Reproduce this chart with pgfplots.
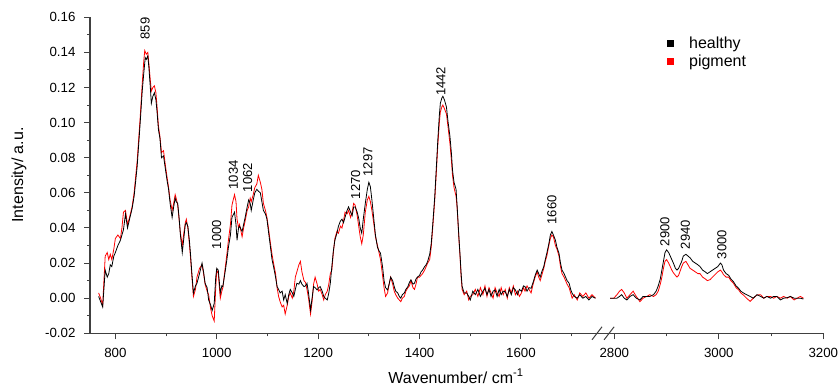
\documentclass[border=0pt]{standalone}
\usepackage{fontspec}
\setmainfont{Liberation Sans}
\usepackage{pgfplots}
\pgfplotsset{compat=1.18}
\definecolor{axgray}{HTML}{404040}
\begin{document}
\begin{tikzpicture}
\path[use as bounding box] (0pt,0pt) rectangle (838pt,389pt);
\pgfplotsset{
  myaxis/.style={
    scale only axis, height=316pt, ymin=-0.02, ymax=0.16, clip=false,
    tick align=outside, major tick length=6pt, minor tick length=3pt,
    every tick/.style={axgray, line width=1pt},
    axis line style={axgray, line width=1.2pt},
    tick label style={font=\fontsize{13.3}{15}\selectfont},
    /pgf/number format/assume math mode=true,
    /pgf/number format/1000 sep={},
    xticklabel style={yshift=-5pt},
  }
}
\begin{axis}[myaxis, name=L, at={(90pt,55.7pt)}, width=507pt,
  xmin=750, xmax=1750,
  axis lines*=left,
  xtick={800,1000,1200,1400,1600},
  minor xtick={900,1100,1300,1500,1700},
  ytick={-0.02,0,0.02,0.04,0.06,0.08,0.10,0.12,0.14,0.16},
  minor ytick={-0.01,0.01,0.03,0.05,0.07,0.09,0.11,0.13,0.15},
  yticklabel style={/pgf/number format/fixed, /pgf/number format/fixed zerofill, /pgf/number format/precision=2, xshift=-5pt},
]
\addplot[red, line width=0.8pt] table {
767 0.003
771 0.000
775 -0.004
780 0.024
784 0.026
787 0.022
790 0.025
793 0.022
797 0.028
800 0.034
805 0.036
810 0.034
813 0.040
816 0.049
820 0.050
824 0.042
828 0.046
833 0.052
837 0.060
843 0.078
849 0.103
853 0.122
856 0.135
858 0.141
861 0.139
864 0.140
866 0.134
869 0.124
871 0.118
874 0.120
877 0.121
880 0.117
882 0.110
885 0.098
888 0.092
891 0.083
895 0.084
899 0.075
902 0.069
905 0.063
908 0.056
912 0.050
915 0.054
918 0.059
920 0.057
923 0.053
926 0.044
928 0.038
932 0.030
935 0.037
938 0.043
940 0.045
943 0.040
946 0.031
948 0.024
951 0.012
954 0.001
958 0.005
961 0.012
966 0.017
971 0.019
974 0.014
977 0.008
981 0.004
984 0.002
988 -0.006
991 -0.010
995 -0.013
998 0.006
1000 0.016
1003 0.014
1007 0.000
1010 0.004
1012 0.006
1017 0.018
1020 0.025
1023 0.033
1027 0.042
1030 0.053
1035 0.059
1038 0.055
1040 0.045
1043 0.040
1045 0.042
1050 0.035
1053 0.040
1056 0.044
1060 0.050
1063 0.052
1066 0.057
1068 0.055
1072 0.059
1075 0.063
1079 0.065
1082 0.070
1086 0.066
1089 0.062
1092 0.054
1096 0.050
1099 0.046
1102 0.040
1106 0.031
1109 0.025
1112 0.020
1116 0.014
1119 0.006
1122 0.001
1125 -0.002
1129 -0.005
1132 -0.004
1135 -0.009
1139 -0.004
1142 0.001
1145 0.003
1149 0.000
1152 0.004
1155 0.012
1158 0.015
1162 0.019
1165 0.021
1168 0.015
1172 0.010
1175 0.009
1178 0.005
1181 0.000
1185 -0.009
1188 -0.002
1191 0.008
1194 0.012
1198 0.008
1201 0.004
1204 0.005
1208 0.002
1211 -0.001
1214 0.002
1218 0.004
1221 0.008
1224 0.014
1227 0.016
1230 0.026
1233 0.034
1237 0.038
1240 0.037
1244 0.041
1247 0.040
1250 0.044
1253 0.049
1257 0.048
1260 0.050
1264 0.046
1267 0.049
1270 0.054
1273 0.053
1277 0.047
1280 0.041
1283 0.035
1286 0.031
1289 0.036
1293 0.049
1297 0.056
1300 0.058
1303 0.055
1306 0.050
1310 0.042
1313 0.035
1317 0.030
1320 0.026
1323 0.022
1327 0.013
1330 0.006
1333 0.001
1337 0.003
1340 0.008
1343 0.012
1347 0.008
1350 0.004
1353 0.002
1357 0.000
1360 -0.001
1363 -0.002
1366 0.000
1370 0.001
1373 0.004
1377 0.006
1380 0.007
1383 0.010
1387 0.006
1390 0.005
1393 0.008
1396 0.012
1400 0.012
1403 0.013
1406 0.014
1410 0.016
1413 0.018
1416 0.020
1420 0.022
1423 0.029
1426 0.040
1430 0.056
1433 0.071
1436 0.087
1439 0.100
1441 0.106
1444 0.109
1446 0.110
1449 0.108
1453 0.105
1456 0.098
1460 0.088
1463 0.078
1465 0.070
1468 0.063
1472 0.058
1474 0.052
1476 0.042
1478 0.032
1480 0.023
1482 0.012
1484 0.005
1488 0.002
1493 0.004
1497 -0.001
1500 0.001
1505 0.002
1510 0.005
1515 0.001
1520 0.006
1525 0.002
1529 0.007
1533 0.001
1537 0.006
1541 0.003
1545 0.000
1549 0.006
1553 0.003
1557 0.001
1561 0.006
1565 0.002
1569 0.005
1573 0.000
1577 0.006
1581 0.003
1585 0.007
1589 0.002
1593 0.004
1597 0.001
1601 0.003
1605 0.006
1608 0.004
1612 0.007
1616 0.005
1620 0.003
1624 0.008
1628 0.012
1632 0.015
1635 0.012
1638 0.010
1641 0.013
1645 0.017
1648 0.021
1651 0.024
1655 0.030
1658 0.034
1661 0.036
1664 0.035
1668 0.030
1671 0.028
1675 0.024
1678 0.018
1681 0.014
1685 0.012
1688 0.010
1691 0.008
1695 0.006
1698 0.003
1701 0.000
1705 0.002
1711 -0.001
1716 0.003
1722 0.001
1728 0.003
1734 0.000
1740 0.002
1747 0.000
};
\addplot[black, line width=0.8pt] table {
767 0.001
771 -0.002
775 -0.005
780 0.016
784 0.012
787 0.014
790 0.019
793 0.018
797 0.024
800 0.026
805 0.030
810 0.033
813 0.036
816 0.039
820 0.048
824 0.040
828 0.045
833 0.051
837 0.058
843 0.075
849 0.100
853 0.118
856 0.128
859 0.137
861 0.136
864 0.138
866 0.132
869 0.120
871 0.111
874 0.115
877 0.117
880 0.113
882 0.107
885 0.096
888 0.091
891 0.080
895 0.081
899 0.073
902 0.067
905 0.062
908 0.054
912 0.046
915 0.052
918 0.057
920 0.055
923 0.054
926 0.045
928 0.037
932 0.026
935 0.034
938 0.042
940 0.043
943 0.041
946 0.033
948 0.026
951 0.014
954 0.003
958 0.007
961 0.0085
966 0.014
971 0.020
974 0.015
977 0.0085
981 0.006
984 -0.001
988 -0.004
991 -0.007
995 -0.003
998 0.012
1000 0.017
1003 0.016
1007 0.003
1010 0.007
1012 0.0066
1017 0.016
1020 0.022
1023 0.029
1027 0.036
1030 0.046
1035 0.049
1038 0.042
1040 0.033
1043 0.040
1045 0.041
1050 0.038
1053 0.042
1056 0.046
1060 0.052
1063 0.056
1066 0.054
1068 0.050
1072 0.056
1075 0.060
1079 0.062
1082 0.061
1086 0.060
1089 0.055
1092 0.050
1096 0.048
1099 0.045
1102 0.038
1106 0.029
1109 0.022
1112 0.018
1116 0.012
1119 0.0066
1122 0.005
1125 0.003
1129 0.004
1132 -0.001
1135 0.002
1139 -0.003
1142 0.002
1145 0.005
1149 0.003
1152 0.001
1155 0.005
1158 0.0085
1162 0.008
1165 0.010
1168 0.008
1172 0.0066
1175 0.007
1178 0.0085
1181 0.003
1185 -0.0067
1188 0.000
1191 0.0066
1194 0.006
1198 0.0047
1201 0.006
1204 0.0066
1208 0.004
1211 0.001
1214 0.000
1218 -0.001
1221 0.003
1224 0.0085
1227 0.018
1230 0.027
1233 0.033
1237 0.037
1240 0.041
1244 0.044
1247 0.045
1250 0.043
1253 0.046
1257 0.050
1260 0.052
1264 0.049
1267 0.047
1270 0.052
1273 0.052
1277 0.049
1280 0.0455
1283 0.040
1286 0.037
1289 0.045
1293 0.054
1297 0.062
1300 0.066
1303 0.0635
1306 0.056
1310 0.0445
1313 0.036
1317 0.029
1320 0.027
1323 0.0256
1327 0.018
1330 0.010
1333 0.006
1337 0.0047
1340 0.008
1343 0.012
1347 0.010
1350 0.0066
1353 0.004
1357 0.003
1360 0.001
1363 0.000
1366 0.002
1370 0.003
1373 0.005
1377 0.0066
1380 0.009
1383 0.0104
1387 0.008
1390 0.0085
1393 0.011
1396 0.012
1400 0.013
1403 0.015
1406 0.016
1410 0.018
1413 0.019
1416 0.021
1420 0.025
1423 0.031
1426 0.042
1430 0.058
1433 0.074
1436 0.090
1439 0.104
1441 0.111
1444 0.114
1446 0.115
1449 0.113
1453 0.109
1456 0.101
1460 0.092
1463 0.082
1465 0.073
1468 0.066
1472 0.062
1474 0.053
1476 0.043
1478 0.033
1480 0.024
1482 0.014
1484 0.0066
1488 0.003
1493 0.003
1497 0.001
1500 -0.001
1505 0.004
1510 0.002
1515 0.005
1520 0.001
1525 0.004
1529 0.0056
1533 0.002
1537 0.005
1541 0.001
1545 0.004
1549 0.0047
1553 0.001
1557 0.005
1561 0.002
1565 0.004
1569 0.0037
1573 0.001
1577 0.005
1581 0.002
1585 0.006
1589 0.0047
1593 0.002
1597 0.005
1601 0.004
1605 0.007
1608 0.0066
1612 0.004
1616 0.006
1620 0.0056
1624 0.009
1628 0.013
1632 0.016
1635 0.014
1638 0.012
1641 0.015
1645 0.018
1648 0.022
1651 0.0256
1655 0.031
1658 0.036
1661 0.038
1664 0.036
1668 0.033
1671 0.029
1675 0.0256
1678 0.020
1681 0.016
1685 0.014
1688 0.012
1691 0.010
1695 0.0085
1698 0.005
1701 0.0028
1705 0.001
1711 0.000
1716 0.002
1722 0.000
1728 0.001
1734 -0.001
1740 0.001
1747 0.000
};
\begin{scope}[every node/.style={rotate=90, anchor=west, inner sep=0.5pt, font=\fontsize{13}{15}\selectfont}]
\node at (axis cs:859,0.147) {859};
\node at (axis cs:1000,0.0275) {1000};
\node at (axis cs:1033,0.0616) {1034};
\node at (axis cs:1061,0.060) {1062};
\node at (axis cs:1274,0.056) {1270};
\node at (axis cs:1298,0.069) {1297};
\node at (axis cs:1442,0.1148) {1442};
\node at (axis cs:1661,0.0417) {1660};
\end{scope}
\end{axis}
\begin{axis}[myaxis, name=R, at={(609.1pt,55.7pt)}, width=214.2pt,
  xmin=2790, xmax=3200,
  axis x line*=bottom, axis y line=none,
  xtick={2800,3000,3200},
  minor xtick={2900,3100},
  legend style={draw=none, fill=none, inner sep=0pt, at={(0.27,0.944)}, anchor=north west,
    font=\fontsize{16}{19}\selectfont, row sep=1pt},
  legend cell align=left,
  legend image code/.code={\fill[#1, draw=none] (0pt,-3.5pt) rectangle (7pt,3.5pt); \path[draw=none, fill=none] (0pt,0pt) -- (20pt,0pt);},
]
\addlegendimage{black}
\addlegendentry{healthy}
\addlegendimage{red}
\addlegendentry{pigment}
\addplot[red, line width=0.8pt, forget plot] table {
2792 0.000
2799 0.000
2805 0.002
2810 0.004
2814 0.005
2819 0.003
2824 0.000
2830 0.002
2836 0.004
2842 0.001
2849 -0.002
2855 0.000
2862 0.001
2868 0.002
2875 0.001
2880 0.002
2884 0.004
2888 0.008
2891 0.012
2894 0.017
2897 0.021
2900 0.022
2904 0.020
2907 0.018
2910 0.016
2913 0.0145
2917 0.013
2920 0.012
2923 0.013
2926 0.0155
2929 0.018
2932 0.020
2937 0.021
2941 0.019
2945 0.017
2950 0.016
2955 0.015
2960 0.014
2964 0.014
2969 0.012
2974 0.011
2978 0.010
2983 0.0105
2988 0.012
2993 0.0135
2998 0.015
3003 0.016
3006 0.015
3009 0.0134
3014 0.012
3019 0.012
3023 0.010
3028 0.0085
3033 0.006
3038 0.0047
3042 0.003
3047 0.0018
3053 0.000
3060 -0.0018
3066 0.000
3073 0.0018
3080 0.002
3086 0.000
3092 0.001
3099 0.001
3105 0.000
3111 0.001
3118 0.000
3124 0.001
3131 0.000
3137 0.001
3144 -0.001
3150 0.000
3156 0.001
3162 0.000
};
\addplot[black, line width=0.8pt, forget plot] table {
2792 0.000
2799 0.000
2805 0.000
2810 0.001
2814 0.002
2819 0.000
2824 -0.001
2830 0.001
2836 0.002
2842 0.000
2849 -0.001
2855 0.001
2862 0.001
2868 0.001
2875 0.002
2880 0.004
2884 0.007
2888 0.011
2891 0.016
2894 0.021
2897 0.026
2900 0.0275
2904 0.026
2907 0.024
2910 0.022
2913 0.020
2917 0.017
2920 0.016
2923 0.017
2926 0.019
2929 0.021
2932 0.024
2937 0.025
2941 0.024
2945 0.023
2950 0.021
2955 0.020
2960 0.019
2964 0.018
2969 0.016
2974 0.015
2978 0.014
2983 0.015
2988 0.016
2993 0.017
2998 0.018
3003 0.020
3006 0.019
3009 0.016
3014 0.014
3019 0.013
3023 0.011
3028 0.0094
3033 0.007
3038 0.0056
3042 0.004
3047 0.003
3053 0.002
3060 0.001
3066 0.000
3073 0.002
3080 0.001
3086 0.000
3092 0.001
3099 0.000
3105 0.001
3111 0.001
3118 -0.001
3124 0.000
3131 0.0003
3137 0.001
3144 0.000
3150 0.000
3156 0.000
3162 -0.0005
};
\begin{scope}[every node/.style={rotate=90, anchor=west, inner sep=0.5pt, font=\fontsize{13}{15}\selectfont}]
\node at (axis cs:2897,0.0293) {2900};
\node at (axis cs:2936,0.0275) {2940};
\node at (axis cs:3006,0.0218) {3000};
\end{scope}
\end{axis}
\draw[axgray, line width=1.2pt] (L.south east) -- (R.south west);
\draw[axgray, line width=1pt] ([shift={(-5pt,-6.5pt)}]L.south east) -- ++(10pt,13pt);
\draw[axgray, line width=1pt] ([shift={(-5pt,-6.5pt)}]R.south west) -- ++(10pt,13pt);
\node[font=\fontsize{16}{19}\selectfont, anchor=base] at (456pt,6pt) {Wavenumber/ cm\textsuperscript{-1}};
\node[font=\fontsize{16}{19}\selectfont, anchor=base, rotate=90] at (23pt,214pt) {Intensity/ a.u.};
\end{tikzpicture}
\end{document}
